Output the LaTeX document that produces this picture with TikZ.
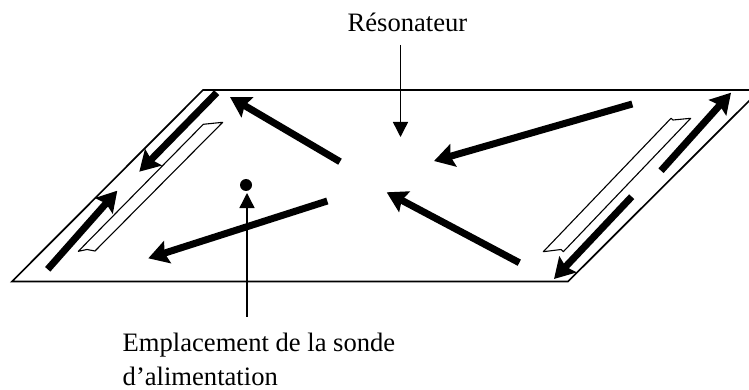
\documentclass[tikz,border=0pt]{standalone}
\usepackage{fontspec}
\setmainfont{Liberation Serif}
\usetikzlibrary{arrows.meta}
\tikzset{
  x=1pt,y=-1pt,
  plate/.style={draw=black,line width=1.7pt,line join=miter},
  slotbox/.style={draw=black,line width=1.1pt,fill=white,line join=round},
  bigarrow/.style={draw=black,line width=7pt,-{Stealth[length=20pt,width=23pt,inset=3pt]}},
  thinarrow/.style={draw=black,line width=1.4pt,-{Triangle[length=15pt,width=15pt]}},
  label/.style={font=\fontsize{26.6}{34}\selectfont,inner sep=0pt,text=black},
  probedot/.style={circle,fill=black,minimum size=12pt,inner sep=0pt}
}
\begin{document}
\begin{tikzpicture}
\path[use as bounding box] (0,0) rectangle (749,390);
\begin{scope}
\clip (0,0) rectangle (749,390);
\draw[plate] (203,90) -- (760,90) -- (568,281.5) -- (12,281.5) -- cycle;
\end{scope}
% slots
\draw[slotbox] (78.3,251.3) -- (203.3,124.3) -- (222.7,122.3) -- (95,251) -- (87,249.5) -- cycle;
\draw[slotbox] (543.3,251.7) -- (671,118.3) -- (673,120) -- (690.7,118.3) -- (563.3,251.7) -- (561,249.5) -- cycle;
% large arrows
\coordinate (a1) at (216.7,92.7); \coordinate (a2) at (139.3,171.7);
\coordinate (b1) at (47.7,269.3); \coordinate (b2) at (117.3,190.7);
\coordinate (c1) at (340,161.7); \coordinate (c2) at (230,97);
\coordinate (d1) at (327.3,201); \coordinate (d2) at (148.3,258.3);
\coordinate (e1) at (632.3,104); \coordinate (e2) at (434,161);
\coordinate (f1) at (519.3,262.7); \coordinate (f2) at (386.7,192.3);
\coordinate (g1) at (661,170.7); \coordinate (g2) at (731,92.7);
\coordinate (h1) at (631.7,196.7); \coordinate (h2) at (554,279);
\foreach \s/\t in {a1/a2,b1/b2,c1/c2,d1/d2,e1/e2,f1/f2,g1/g2,h1/h2}
  \draw[bigarrow] (\s) -- (\t);
% labels
\node[label,anchor=base] (res) at (407.5,32) {Résonateur};
\coordinate (resfoot) at (400.5,45);
\coordinate (restip) at (400.5,137);
\draw[thinarrow] (resfoot) -- (restip);
\node[probedot] (dot) at (246,185) {};
\coordinate (probefoot) at (247,316.7);
\coordinate (probetip) at (247,193);
\draw[thinarrow] (probefoot) -- (probetip);
\node[label,anchor=base west] (emp) at (122.5,351.7) {Emplacement de la sonde};
\node[label,anchor=base west] (ali) at (122.5,385) {d’alimentation};
\end{tikzpicture}
\end{document}
